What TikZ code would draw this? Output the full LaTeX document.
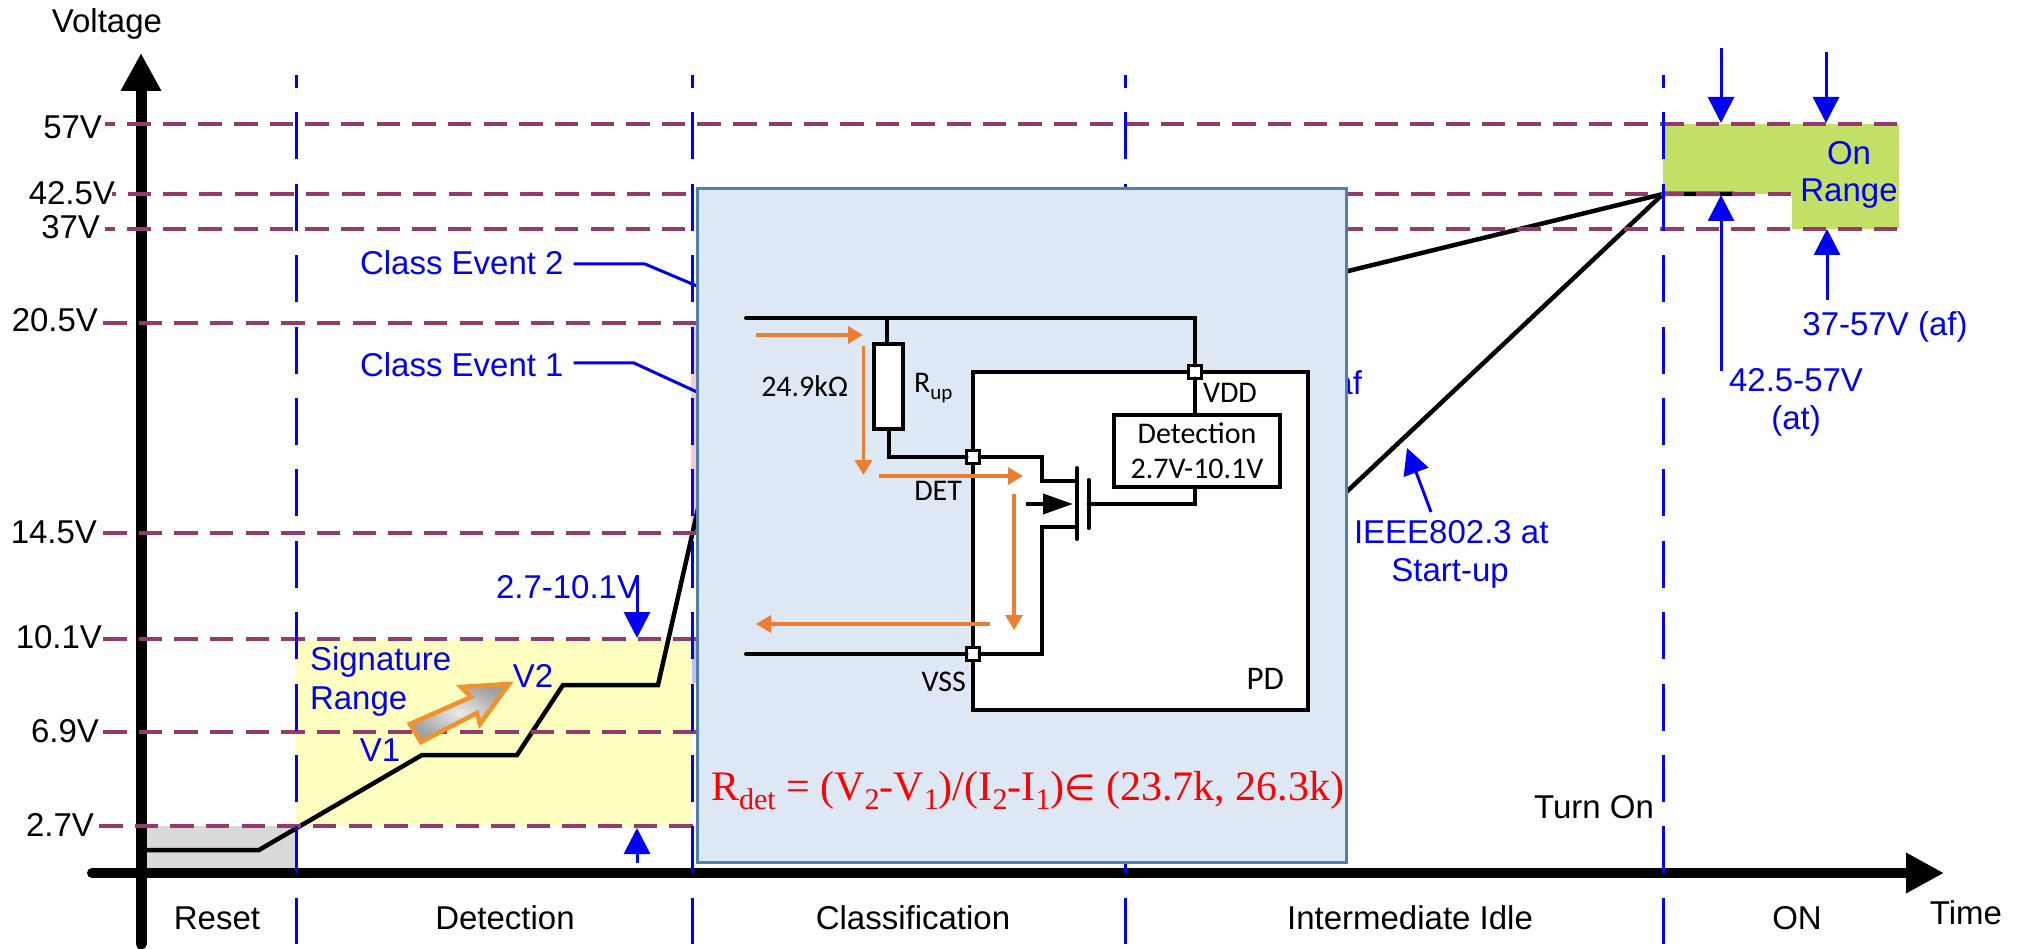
\documentclass[tikz,border=0pt]{standalone}
\usepackage{fontspec}
\setmainfont{Liberation Sans}
\newfontfamily\calib{Carlito}
\newfontfamily\tms{Liberation Serif}
\newfontfamily\djv{DejaVu Sans}
\usetikzlibrary{arrows.meta}
\definecolor{maroon}{HTML}{953A6C}
\definecolor{bluex}{HTML}{0000F5}
\definecolor{orangex}{HTML}{ED7D31}
\definecolor{orangey}{HTML}{F0922E}
\definecolor{panel}{HTML}{DDE8F4}
\definecolor{panelb}{HTML}{5080AC}
\definecolor{yel}{HTML}{FFFFC0}
\definecolor{grn}{HTML}{C2DF66}
\definecolor{pinkx}{HTML}{FFC4DE}
\newcommand\subx[2]{\raisebox{-0.22em}{\fontsize{#1}{#1}\selectfont #2}}
\tikzset{
 txt/.style={inner sep=0,outer sep=0,font=\fontsize{33}{38}\selectfont,text=black},
 btxt/.style={txt,text=bluex},
 ctxt/.style={inner sep=0,outer sep=0,font=\calib\fontsize{30}{36}\selectfont,text=black},
 level/.style={draw=maroon,line width=3.6pt,dash pattern=on 23.5pt off 12.15pt},
 phase/.style={draw=bluex,line width=3pt,dash pattern=on 47pt off 24.4pt,dash phase=34pt},
 leader/.style={draw=bluex,line width=3pt},
 barrow/.style={draw=bluex,line width=3pt,-{Triangle[length=26pt,width=26pt]}},
 wire/.style={draw=black,line width=4pt,line cap=round,line join=miter},
 curve/.style={draw=black,line width=4.5pt,line join=miter},
 oarrow/.style={draw=orangex,line width=3.2pt,-{Triangle[length=15pt,width=17pt]}},
 term/.style={draw=black,fill=white,line width=3.4pt,minimum size=13pt,inner sep=0,outer sep=0},
 cbox/.style={draw=black,line width=4pt,inner sep=0,outer sep=0},
}
\begin{document}
\begin{tikzpicture}[x=1pt,y=-1pt]
\useasboundingbox (0,0) rectangle (2021,949);
% fills
\fill[gray!30] (146,826) rectangle (296,868);
\fill[yel] (296,639) rectangle (692,826);
\fill[grn] (1663,124) rectangle (1792,194);
\fill[grn] (1792,124) rectangle (1899,229);
\fill[pinkx] (693,323) rectangle (697,375);
\fill[pinkx] (691,375) rectangle (697,533);
\fill[blue!25!white] (692,640) rectangle (697,683);
% axes
\coordinate (yb) at (141,944);
\coordinate (yt) at (141,53);
\coordinate (xl) at (92,873);
\coordinate (xr) at (1944,873);
\draw[line width=11pt,line cap=round,-{Triangle[length=38pt,width=38pt]}] (yb) -- (yt);
\draw[line width=10pt,line cap=round,-{Triangle[length=38pt,width=38pt]}] (xl) -- (xr);
% curve
\coordinate (c0) at (146,850);
\coordinate (c1) at (259,850);
\coordinate (c2) at (422,755);
\coordinate (c3) at (517,755);
\coordinate (c4) at (563,685);
\coordinate (c5) at (658,685);
\coordinate (c6) at (700,500);
\coordinate (on) at (1663,194);
\coordinate (onr) at (1734,194);
\coordinate (af0) at (1340,273);
\coordinate (at0) at (1340,498);
\draw[curve] (c0) -- (c1) -- (c2) -- (c3) -- (c4) -- (c5) -- (c6);
\draw[curve] (af0) -- (on) -- (onr);
\draw[curve] (at0) -- (on);
% levels
\draw[level,dash phase=13.6pt] (105,124) -- (1899,124);
\draw[level,dash phase=20pt] (112,194) -- (1792,194);
\draw[level,dash phase=13.6pt] (105,229) -- (1899,229);
\draw[level] (103,323) -- (697,323);
\draw[level] (103,533) -- (697,533);
\draw[level] (103,639) -- (697,639);
\draw[level] (103,732) -- (697,732);
\draw[level] (99,826) -- (697,826);
% phase lines
\foreach \x/\n in {296/a,692/b,1125/c,1663/d}{
  \coordinate (p\n t) at (\x,75);
  \coordinate (p\n b) at (\x,944);
  \draw[phase] (p\n t) -- (p\n b);
}
% left labels
\node[txt,anchor=east] (l57) at (102,127) {57V};
\node[txt,anchor=east] (l425) at (115,193) {42.5V};
\node[txt,anchor=east] (l37) at (100,227) {37V};
\node[txt,anchor=east] (l205) at (98,320) {20.5V};
\node[txt,anchor=east] (l145) at (97,532) {14.5V};
\node[txt,anchor=east] (l101) at (102,637) {10.1V};
\node[txt,anchor=east] (l69) at (99,731) {6.9V};
\node[txt,anchor=east] (l27) at (94,825) {2.7V};
\node[txt] (volt) at (107,24) {Voltage};
\node[txt] (time) at (1966,913) {Time};
\node[txt] (reset) at (217,918) {Reset};
\node[txt] (det) at (505,918) {Detection};
\node[txt] (cls) at (913,918) {Classification};
\node[txt] (idle) at (1410,918) {Intermediate Idle};
\node[txt] (onl) at (1797,918) {ON};
\node[txt,anchor=east] (turn) at (1654,807) {Turn On};
% blue labels
\node[btxt,anchor=west] (ce2) at (360,263) {Class Event 2};
\node[btxt,anchor=west] (ce1) at (360,365) {Class Event 1};
\node[btxt,anchor=west] (sig) at (310,662) {Signature};
\node[btxt,anchor=west] (rng) at (310,702) {Range};
\node[btxt] (v1) at (380,750) {V1};
\node[btxt] (v2) at (533,676) {V2};
\node[btxt,anchor=west] (r27) at (496,587) {2.7-10.1V};
\coordinate (k2) at (645,264); \coordinate (e2) at (697,286);
\coordinate (k1) at (634,363); \coordinate (e1) at (697,392);
\draw[leader] (ce2.east)++(10,1) -- (k2) -- (e2);
\draw[leader] (ce1.east)++(10,-2) -- (k1) -- (e1);
\coordinate (a1s) at (637,575); \coordinate (a1e) at (637,638);
\coordinate (a2s) at (637,863); \coordinate (a2e) at (637,828);
\draw[barrow] (a1s) -- (a1e);
\draw[barrow] (a2s) -- (a2e);
% block arrow
\shadedraw[draw=orangey,line width=4.5pt,inner color=gray!15,outer color=gray!75,line join=miter]
  (509,684) -- (461,687) -- (471,697) -- (410,724) -- (421,742) -- (477,713) -- (480,724) -- cycle;
% right labels
\node[btxt,anchor=east] (afx) at (1362,383) {af};
\node[btxt] (onr1) at (1849,153) {On};
\node[btxt] (onr2) at (1849,194) {Range};
\node[btxt] (v3757) at (1885,327) {37-57V (af)};
\node[btxt] (v425) at (1796,380) {42.5-57V};
\node[btxt] (vat) at (1796,421) {(at)};
\node[btxt,anchor=west] (ieee) at (1354,532) {IEEE802.3 at};
\node[btxt] (start) at (1450,573) {Start-up};
\coordinate (d1s) at (1721,48); \coordinate (d1e) at (1721,123);
\coordinate (d2s) at (1826,52); \coordinate (d2e) at (1826,123);
\coordinate (u1s) at (1721,371); \coordinate (u1e) at (1721,195);
\coordinate (u2s) at (1827,300); \coordinate (u2e) at (1827,229);
\coordinate (i1s) at (1431,512); \coordinate (i1e) at (1407,448);
\draw[barrow] (d1s) -- (d1e);
\draw[barrow] (d2s) -- (d2e);
\draw[barrow] (u1s) -- (u1e);
\draw[barrow] (u2s) -- (u2e);
\draw[barrow] (i1s) -- (i1e);
% panel
\node[draw=panelb,fill=panel,line width=3pt,minimum width=649pt,minimum height=673pt,inner sep=0,outer sep=0] (panel) at (1021.5,525.5) {};
% circuit
\node[cbox,fill=white,minimum width=334.5pt,minimum height=338pt] (pd) at (1140.25,541) {};
\node[cbox,fill=white,minimum width=29pt,minimum height=85pt] (res) at (888.5,386.5) {};
\node[cbox,fill=white,minimum width=166pt,minimum height=72pt] (dbox) at (1197,451) {};
\node[term] (tvdd) at (1195,372) {};
\node[term] (tdet) at (973,457) {};
\node[term] (tvss) at (973,654) {};
\coordinate (wl) at (746,318); \coordinate (wr) at (1195,318);
\coordinate (wres) at (887,318);
\coordinate (bl) at (746,654);
\draw[wire] (wl) -- (wr) -- (tvdd.north);
\draw[wire] (wres) -- (wres |- res.north);
\draw[wire] (tvdd.south) -- (tvdd.south |- dbox.north);
\draw[wire] (res.south) -- (res.south |- tdet.west) -- (tdet.west);
\draw[wire] (bl) -- (tvss.west);
\coordinate (drain) at (1042,481);
\coordinate (src) at (1042,527);
\coordinate (chT) at (1077,468); \coordinate (chB) at (1077,539);
\coordinate (gT) at (1088.5,480); \coordinate (gB) at (1088.5,528);
\coordinate (gm) at (1088.5,504); \coordinate (gd) at (1195,504);
\draw[wire] (tdet.east) -- (tdet.east -| drain) -- (drain) -- (drain -| chT);
\draw[wire] (tvss.east) -- (tvss.east -| src) -- (src) -- (src -| chB);
\draw[wire] (chT) -- (chB);
\draw[wire] (gT) -- (gB);
\draw[wire] (gm) -- (gd) -- (gd |- dbox.south);
\coordinate (ma) at (1026,504); \coordinate (mb) at (1073,504);
\draw[draw=black,line width=3.6pt,-{Triangle[length=30pt,width=20pt]}] (ma) -- (mb);
% orange arrows
\coordinate (o1a) at (756,335); \coordinate (o1b) at (863,335);
\coordinate (o2a) at (863.4,346); \coordinate (o2b) at (863.4,475);
\coordinate (o3a) at (879,476); \coordinate (o3b) at (1023,476);
\coordinate (o4a) at (1014,494); \coordinate (o4b) at (1014,630);
\coordinate (o5a) at (990,624); \coordinate (o5b) at (756,624);
\draw[oarrow] (o1a) -- (o1b);
\draw[oarrow] (o2a) -- (o2b);
\draw[oarrow] (o3a) -- (o3b);
\draw[oarrow] (o4a) -- (o4b);
\draw[oarrow] (o5a) -- (o5b);
% circuit text
\node[ctxt,anchor=east] (r249) at (848,386) {24.9k\char"03A9};
\node[ctxt,anchor=west] (rup) at (914,388) {R\subx{21}{up}};
\node[ctxt,anchor=west] (vdd) at (1203,393) {VDD};
\node[ctxt] (dt1) at (1197,433) {Detection};
\node[ctxt] (dt2) at (1197,469) {2.7V-10.1V};
\node[ctxt,anchor=east] (detl) at (962,491) {DET};
\node[ctxt,anchor=east] (vss) at (966,682) {VSS};
\node[ctxt,anchor=east,font=\calib\fontsize{33}{38}\selectfont] (pdl) at (1284,679) {PD};
% formula
\node[anchor=base west,inner sep=0,outer sep=0,text=red,font=\tms\fontsize{42}{48}\selectfont] (rf) at (711,800)
 {R\subx{30}{det} = (V\subx{30}{2}-V\subx{30}{1})/(I\subx{30}{2}-I\subx{30}{1}){\djv\fontsize{36}{48}\selectfont\char"2208} (23.7k, 26.3k)};
\end{tikzpicture}
\end{document}
